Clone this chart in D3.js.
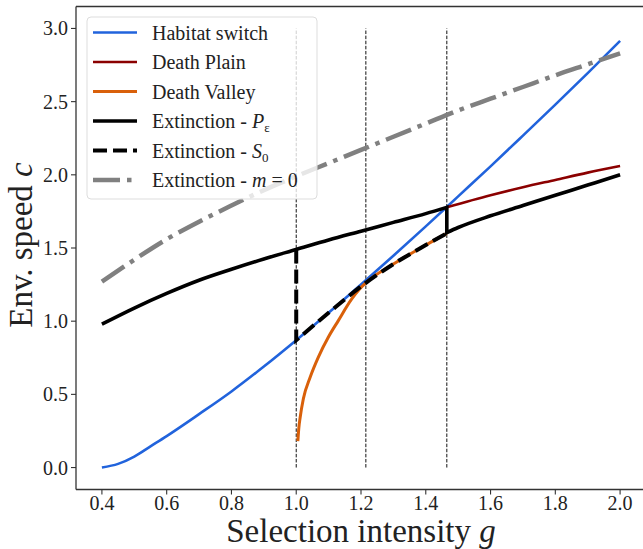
<!DOCTYPE html>
<html>
<head>
<meta charset="utf-8">
<script src="https://cdn.jsdelivr.net/npm/d3@7"></script>
<style>
  body { margin: 0; background: #fff; }
</style>
</head>
<body>
<svg width="643" height="549"></svg>
<script>
// values
var xTicks = [0.4, 0.6, 0.8, 1.0, 1.2, 1.4, 1.6, 1.8, 2.0];
var yTicks = [0.0, 0.5, 1.0, 1.5, 2.0, 2.5, 3.0];
var vlines = [1.0, 1.215, 1.465];

var habitat_g = [0.4, 0.45, 0.5, 0.55, 0.6, 0.7, 0.8, 0.9, 1.0, 1.1, 1.2, 1.3, 1.4, 1.5, 1.6, 1.7, 1.8, 1.9, 2.0];
var habitat_c = [0.0, 0.025, 0.075, 0.145, 0.215, 0.365, 0.52, 0.69, 0.87, 1.057, 1.25, 1.447, 1.648, 1.853, 2.058, 2.268, 2.48, 2.695, 2.915];

var plain_g = [1.465, 1.6, 1.7, 1.8, 1.9, 2.0];
var plain_c = [1.778, 1.86, 1.915, 1.965, 2.015, 2.06];

var valley_g = [1.005, 1.008, 1.012, 1.022, 1.043, 1.068, 1.099, 1.13, 1.171, 1.195, 1.215, 1.3, 1.4, 1.465];
var valley_c = [0.18, 0.27, 0.34, 0.47, 0.617, 0.753, 0.89, 1.004, 1.15, 1.218, 1.262, 1.39, 1.52, 1.60];

var peps_g = [0.4, 0.5, 0.6, 0.7, 0.8, 0.9, 1.0, 1.1, 1.2, 1.3, 1.4, 1.465, 1.465, 1.5, 1.6, 1.7, 1.8, 1.9, 2.0];
var peps_c = [0.98, 1.09, 1.19, 1.28, 1.355, 1.425, 1.49, 1.555, 1.615, 1.675, 1.735, 1.778, 1.605, 1.64, 1.72, 1.79, 1.86, 1.93, 2.0];

var s0_g = [1.0, 1.0, 1.1, 1.215, 1.3, 1.4, 1.465];
var s0_c = [1.49, 0.87, 1.057, 1.262, 1.39, 1.52, 1.60];

var m0_g = [0.4, 0.5, 0.6, 0.7, 0.8, 0.9, 1.0, 1.1, 1.2, 1.3, 1.4, 1.5, 1.6, 1.7, 1.8, 1.9, 2.0];
var m0_c = [1.27, 1.42, 1.56, 1.68, 1.79, 1.895, 1.99, 2.08, 2.17, 2.26, 2.35, 2.44, 2.52, 2.60, 2.68, 2.755, 2.83];

var FONT = '"Liberation Serif", "Times New Roman", "DejaVu Serif", serif';

var svg = d3.select("svg");
var x = d3.scaleLinear().domain([0.32, 2.08]).range([76, 646]);
var y = d3.scaleLinear().domain([-0.15, 3.15]).range([489.5, 6.5]);

var line = d3.line().x(function(d){ return x(d[0]); }).y(function(d){ return y(d[1]); }).curve(d3.curveMonotoneX);

// split at repeated g so vertical jumps stay straight
function pathOf(gs, cs){
    var runs = [], cur = [];
    for (var i = 0; i < gs.length; i++){
        if (cur.length && gs[i] === cur[cur.length-1][0]){ runs.push(cur); cur = []; }
        cur.push([gs[i], cs[i]]);
    }
    runs.push(cur);
    var p = "";
    runs.forEach(function(r, k){
        var s = r.length > 1 ? line(r) : "M" + x(r[0][0]) + "," + y(r[0][1]);
        if (k > 0) s = s.replace(/^M/, "L");
        p += s;
    });
    return p;
}

// vertical guides
svg.selectAll(".vl").data(vlines).enter().append("line")
    .attr("x1", function(d){ return x(d); }).attr("x2", function(d){ return x(d); })
    .attr("y1", y(0)).attr("y2", y(3))
    .attr("stroke", "#111").attr("stroke-width", 1).attr("stroke-dasharray", "3.5,1.6");

var series = [
    {name: "Habitat switch", g: habitat_g, c: habitat_c, color: "#2163dc", w: 2.6, dash: null},
    {name: "Death Plain", g: plain_g, c: plain_c, color: "#8b0000", w: 2.6, dash: null},
    {name: "Death Valley", g: valley_g, c: valley_c, color: "#d9600a", w: 3, dash: null},
    {name: "Extinction - ", math: "P", sub: "ε", g: peps_g, c: peps_c, color: "#000", w: 3.6, dash: null},
    {name: "Extinction - ", math: "S", sub: "0", g: s0_g, c: s0_c, color: "#000", w: 4, dash: "14,6"},
    {name: "Extinction - ", math: "m", tail: " = 0", g: m0_g, c: m0_c, color: "#808080", w: 4.5, dash: "27,7,4.5,7"}
];

svg.selectAll(".curve").data(series).enter().append("path")
    .attr("d", function(d){ return pathOf(d.g, d.c); })
    .attr("fill", "none")
    .attr("stroke", function(d){ return d.color; })
    .attr("stroke-width", function(d){ return d.w; })
    .attr("stroke-dasharray", function(d){ return d.dash; });

// spines
svg.append("line").attr("x1", 76).attr("x2", 76).attr("y1", 6.5).attr("y2", 489.5).attr("stroke", "#333").attr("stroke-width", 1.3);
svg.append("line").attr("x1", 76).attr("x2", 646).attr("y1", 489.5).attr("y2", 489.5).attr("stroke", "#333").attr("stroke-width", 1.3);
svg.append("line").attr("x1", 76).attr("x2", 646).attr("y1", 6.5).attr("y2", 6.5).attr("stroke", "#333").attr("stroke-width", 1.3);

// ticks
svg.selectAll(".xt").data(xTicks).enter().append("line")
    .attr("x1", function(d){ return x(d); }).attr("x2", function(d){ return x(d); })
    .attr("y1", 489.5).attr("y2", 494.5).attr("stroke", "#333").attr("stroke-width", 1.1);
svg.selectAll(".xl").data(xTicks).enter().append("text")
    .attr("x", function(d){ return x(d); }).attr("y", 510)
    .attr("text-anchor", "middle").attr("font-size", 20)
    .text(function(d){ return d.toFixed(1); });
svg.selectAll(".yt").data(yTicks).enter().append("line")
    .attr("x1", 71).attr("x2", 76)
    .attr("y1", function(d){ return y(d); }).attr("y2", function(d){ return y(d); })
    .attr("stroke", "#333").attr("stroke-width", 1.1);
svg.selectAll(".yl").data(yTicks).enter().append("text")
    .attr("x", 68).attr("y", function(d){ return y(d) + 7; })
    .attr("text-anchor", "end").attr("font-size", 20)
    .text(function(d){ return d.toFixed(1); });

// axis titles
var xt = svg.append("text").attr("x", 361).attr("y", 542).attr("text-anchor", "middle").attr("font-size", 33);
xt.append("tspan").text("Selection intensity ");
xt.append("tspan").attr("font-style", "italic").text("g");
var yt = svg.append("text").attr("transform", "translate(32,245) rotate(-90)").attr("text-anchor", "middle").attr("font-size", 33);
yt.append("tspan").text("Env. speed ");
yt.append("tspan").attr("font-style", "italic").text("c");

// legend
var lg = svg.append("g");
lg.append("rect").attr("x", 87).attr("y", 17).attr("width", 230).attr("height", 182).attr("rx", 4)
    .attr("fill", "#fff").attr("fill-opacity", 0.8).attr("stroke", "#ddd").attr("stroke-width", 1);
var item = lg.selectAll(".it").data(series).enter().append("g")
    .attr("transform", function(d, i){ return "translate(0," + (32.5 + i * 29.5) + ")"; });
item.append("line").attr("x1", 93).attr("x2", 137).attr("y1", 0).attr("y2", 0)
    .attr("stroke", function(d){ return d.color; })
    .attr("stroke-width", function(d){ return d.w; })
    .attr("stroke-dasharray", function(d){ return d.dash; });
var lt = item.append("text").attr("x", 152).attr("y", 7).attr("font-size", 20);
lt.append("tspan").text(function(d){ return d.name; });
lt.filter(function(d){ return d.math; }).append("tspan").attr("font-style", "italic").text(function(d){ return d.math; });
lt.filter(function(d){ return d.sub; }).append("tspan").attr("font-size", 13).attr("dy", 4).text(function(d){ return d.sub; });
lt.filter(function(d){ return d.tail; }).append("tspan").text(function(d){ return d.tail; });

svg.selectAll("text").style("font-family", FONT).style("fill", "#222");
</script>
</body>
</html>
